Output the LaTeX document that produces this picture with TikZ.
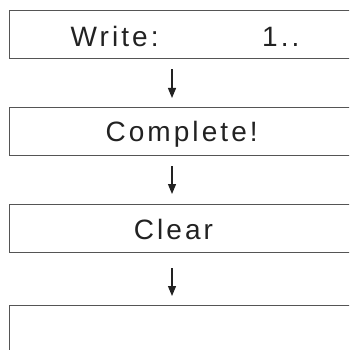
\documentclass[tikz,border=0pt]{standalone}
\usepackage{fontspec}
\setmainfont{Liberation Sans}[LetterSpace=11]
\usetikzlibrary{arrows.meta}
\definecolor{boxline}{HTML}{555555}
\definecolor{txt}{HTML}{222222}
\begin{document}
\begin{tikzpicture}[x=1pt,y=-1pt,
  box/.style={draw=boxline,line width=1.1pt,rectangle,inner sep=0pt,anchor=north west,minimum width=360pt},
  lbl/.style={anchor=base west,inner sep=0pt,text=txt,font=\fontsize{28}{32}\selectfont},
  flow/.style={draw=txt,line width=1.2pt,-{Triangle[width=8pt,length=10pt]}}]
\clip (0,0) rectangle (349,350);
\node[box,minimum height=48pt] (b1) at (8.5,9.7) {};
\node[box,minimum height=48.6pt] (b2) at (8.5,106.7) {};
\node[box,minimum height=47.8pt] (b3) at (8.5,203.7) {};
\node[box,minimum height=48pt] (b4) at (8.5,305) {};
\node[lbl] (t1) at (70.5,46.7) {Write:};
\node[lbl] (t1b) at (262,46.5) {1..};
\node[lbl] (t2) at (105.3,141.7) {Complete!};
\node[lbl] (t3) at (133.6,239.7) {Clear};
\coordinate (ax) at (172,0);
\draw[flow,shorten <=10.3pt,shorten >=8.7pt] (b1.south -| ax) -- (b2.north -| ax);
\draw[flow,shorten <=9.7pt,shorten >=9.7pt] (b2.south -| ax) -- (b3.north -| ax);
\draw[flow,shorten <=15.5pt,shorten >=9pt] (b3.south -| ax) -- (b4.north -| ax);
\end{tikzpicture}
\end{document}
